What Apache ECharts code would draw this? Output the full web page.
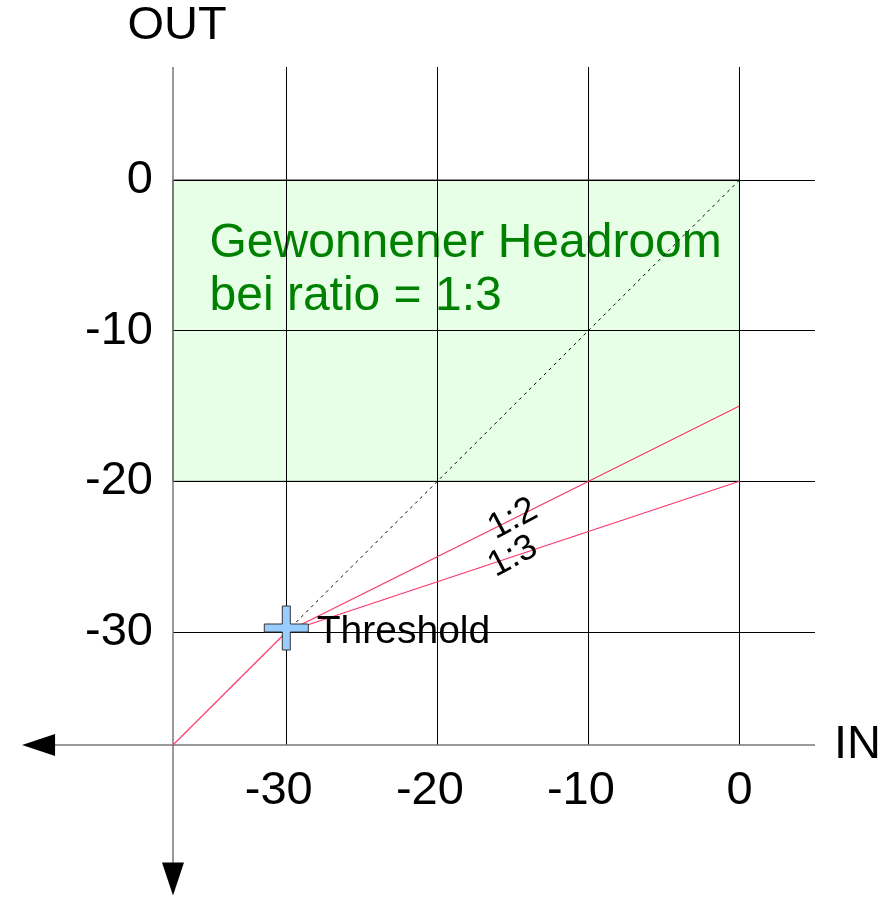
<!DOCTYPE html>
<html><head><meta charset="utf-8">
<script src="https://cdn.jsdelivr.net/npm/echarts@6/dist/echarts.min.js"></script>
<style>html,body{margin:0;padding:0;background:#fff}#c{width:891px;height:897px}</style>
</head><body><div id="c"></div>
<script>
// ---- data ----
const xTicks = [-30, -20, -10, 0];
const yTicks = [0, -10, -20, -30];
const xRange = [-37.5, 5];
const yRange = [-37.5, 7.5];
const thresholdPoint = [-30, -30];
const belowThresholdLine = [[-37.5, -37.5], [-30, -30]];
const ratio12Line = [[-30, -30], [0, -15]];
const ratio13Line = [[-30, -30], [0, -20]];
const unityLine = [[-30, -30], [0, 0]];
const headroomBox = [[-37.5, 0], [0, -20]];
const ratioLabels = [{ name: '1:2', value: [-15, -22.5] }, { name: '1:3', value: [-15, -25] }];
const headroomText = 'Gewonnener Headroom\nbei ratio = 1:3';
const thresholdText = 'Threshold';
const xName = 'IN';
const yName = 'OUT';

// ---- chart ----
const FONT = 'Liberation Sans, Arial, sans-serif';
const arrowEnd = -46.4;
const chart = echarts.init(document.getElementById('c'), null, { renderer: 'canvas' });

const gridLines = [];
xTicks.forEach(x => gridLines.push({ coords: [[x, yRange[0]], [x, yRange[1]]] }));
yTicks.forEach(y => gridLines.push({ coords: [[xRange[0], y], [xRange[1], y]] }));
const axisLines = [
  { coords: [[xRange[0], yRange[1]], [xRange[0], arrowEnd + 1]] },
  { coords: [[arrowEnd + 1, yRange[0]], [xRange[1], yRange[0]]] }
];

const plusPath = 'path://M18,0 H26 V18 H44 V26 H26 V44 H18 V26 H0 V18 H18 Z';
const redLine = data => ({
  type: 'line', z: 4, silent: true, showSymbol: false, symbol: 'none',
  lineStyle: { color: '#ff3366', width: 1.1, opacity: 1 },
  data: data
});

chart.setOption({
  animation: false,
  backgroundColor: '#fff',
  grid: { left: 173, right: 76, top: 67, bottom: 152, containLabel: false },
  xAxis: {
    type: 'value', min: xRange[0], max: xRange[1],
    name: xName, nameLocation: 'end', nameGap: 19,
    nameTextStyle: { fontSize: 47, fontFamily: FONT, color: '#000', verticalAlign: 'middle' },
    axisLine: { show: false, onZero: false }, axisTick: { show: false }, splitLine: { show: false },
    axisLabel: {
      customValues: xTicks, margin: 23,
      formatter: v => (xTicks.indexOf(v) < 0 ? '' : (v < 0 ? '{a|' + v + '}{p| }' : '{a|' + v + '}')),
      rich: {
        a: { fontSize: 47, fontFamily: FONT, color: '#000' },
        p: { width: 15, fontSize: 47, fontFamily: FONT }
      }
    }
  },
  yAxis: {
    type: 'value', min: yRange[0], max: yRange[1],
    name: yName, nameLocation: 'end', nameGap: 17,
    nameTextStyle: { fontSize: 47, fontFamily: FONT, color: '#000', padding: [0, 0, 0, 8] },
    axisLine: { show: false, onZero: false }, axisTick: { show: false }, splitLine: { show: false },
    axisLabel: {
      customValues: yTicks, margin: 20,
      formatter: v => (yTicks.indexOf(v) < 0 ? '' : String(v)),
      fontSize: 47, fontFamily: FONT, color: '#000', padding: [2, 0, 0, 0]
    }
  },
  series: [
    {
      type: 'line', data: [], z: 1, silent: true,
      markArea: {
        silent: true,
        itemStyle: { color: '#e6ffe6', borderColor: '#222', borderWidth: 1, opacity: 1 },
        label: {
          show: true, position: 'insideTopLeft', distance: 0,
          padding: [38, 0, 0, 37],
          color: '#008000', fontSize: 48, lineHeight: 53, fontFamily: FONT
        },
        data: [[{ coord: headroomBox[0], name: headroomText }, { coord: headroomBox[1] }]]
      }
    },
    {
      type: 'lines', coordinateSystem: 'cartesian2d', z: 2, silent: true, clip: false,
      lineStyle: { color: '#000', width: 1, opacity: 1 },
      data: gridLines
    },
    {
      type: 'lines', coordinateSystem: 'cartesian2d', z: 2, silent: true, clip: false,
      lineStyle: { color: '#777', width: 1.5, opacity: 1 },
      data: axisLines
    },
    {
      type: 'scatter', z: 3, silent: true, clip: false,
      symbol: 'triangle', symbolSize: [22, 33],
      itemStyle: { color: '#000', opacity: 1 },
      data: [
        { value: [xRange[0], arrowEnd], symbolRotate: 180 },
        { value: [arrowEnd, yRange[0]], symbolRotate: 90 }
      ]
    },
    {
      type: 'line', z: 4, silent: true, showSymbol: false, symbol: 'none',
      lineStyle: { color: '#000', width: 1, type: [3, 4] },
      data: unityLine
    },
    redLine(belowThresholdLine),
    redLine(ratio12Line),
    redLine(ratio13Line),
    {
      type: 'scatter', z: 5, silent: true, symbolSize: 0,
      itemStyle: { opacity: 1 },
      label: {
        show: true, position: 'inside', formatter: '{b}', rotate: 28,
        fontSize: 36, fontFamily: FONT, color: '#000'
      },
      data: ratioLabels
    },
    {
      type: 'scatter', z: 6, silent: true,
      symbol: plusPath, symbolSize: [44, 44], symbolOffset: [0, -4],
      itemStyle: { color: '#99ccff', borderColor: '#333', borderWidth: 1, opacity: 1 },
      label: {
        show: true, position: 'right', distance: 8, formatter: thresholdText,
        fontSize: 39, fontFamily: FONT, color: '#000', offset: [0, 4]
      },
      data: [thresholdPoint]
    }
  ]
});
</script></body></html>
